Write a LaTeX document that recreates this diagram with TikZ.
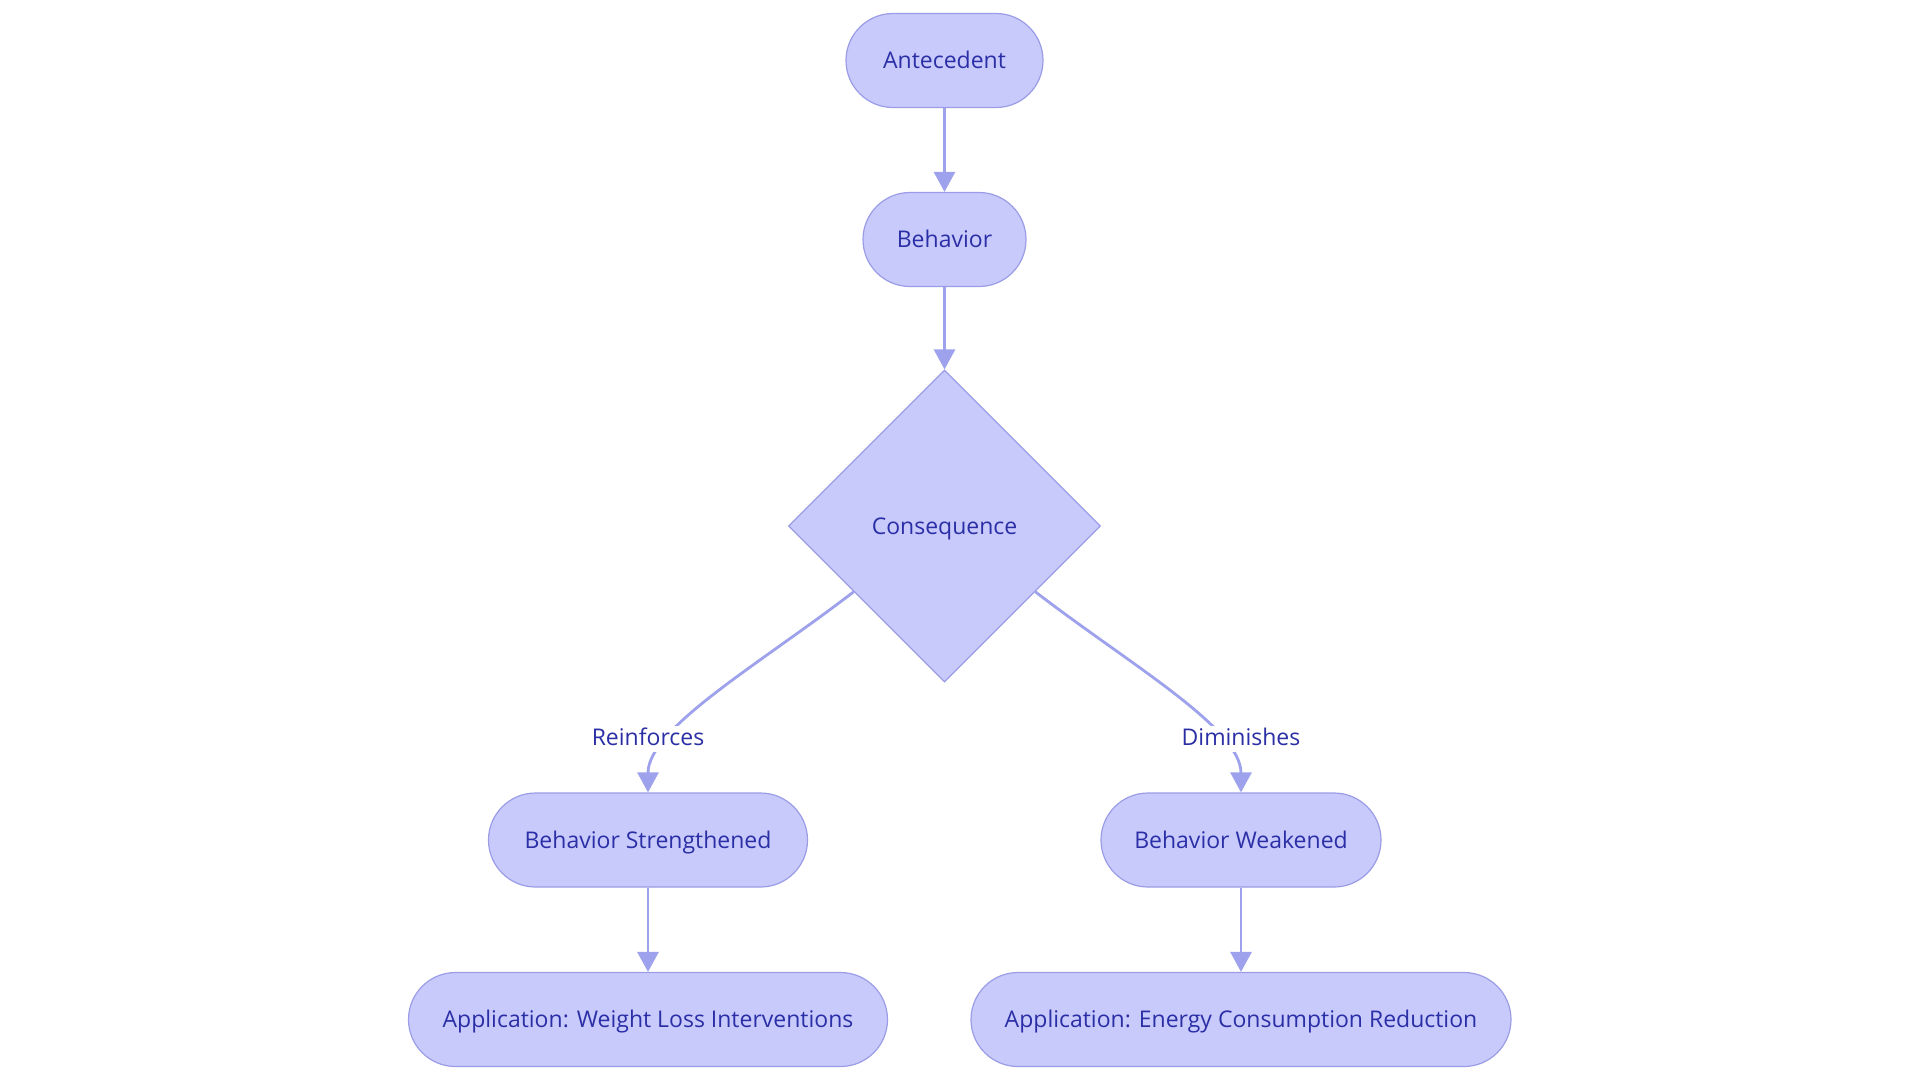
\documentclass[tikz,border=0pt]{standalone}
\usepackage{fontspec}
\setmainfont{Open Sans}
\usetikzlibrary{shapes.geometric,arrows.meta,calc}
\definecolor{nodefill}{HTML}{C9CAFC}
\definecolor{nodeline}{HTML}{9A9DE6}
\definecolor{edgecol}{HTML}{9EA1EC}
\definecolor{txtcol}{HTML}{2B2FA6}
\tikzset{
  pill/.style={draw=nodeline, fill=nodefill, line width=1.2pt, rounded corners=47pt,
    minimum height=94pt, inner sep=0pt, text=txtcol, text height=16.4pt, text depth=0pt,
    font=\fontsize{23}{27}\selectfont},
  decision/.style={diamond, draw=nodeline, fill=nodefill, line width=1.2pt,
    minimum width=312pt, minimum height=312pt, inner sep=0pt, text=txtcol,
    text height=16.4pt, text depth=0pt, font=\fontsize{23}{27}\selectfont},
  edge/.style={draw=edgecol, line width=2.8pt, -{Triangle[length=20pt,width=21pt]}},
  elabel/.style={fill=white, inner sep=3pt, text=txtcol, text height=16.4pt, text depth=4pt,
    font=\fontsize{23}{27}\selectfont}
}
\begin{document}
\begin{tikzpicture}[x=1pt,y=-1pt]
\path[use as bounding box, fill=white] (0,0) rectangle (1920,1080);
\node[pill, minimum width=197pt] (ant) at (944.5,60.5) {Antecedent};
\node[pill, minimum width=163pt] (beh) at (944.5,239.5) {Behavior};
\node[decision] (cons) at (944.5,526) {Consequence};
\node[pill, minimum width=319pt] (str) at (648,840) {Behavior Strengthened};
\node[pill, minimum width=280pt] (weak) at (1241,840) {Behavior Weakened};
\node[pill, minimum width=479pt] (wl) at (648,1019.5) {Application: Weight Loss Interventions};
\node[pill, minimum width=540pt] (en) at (1241,1019.5) {Application: Energy Consumption Reduction};
\coordinate (cl) at ($(cons.west)!0.42!(cons.south)$);
\coordinate (cr) at ($(cons.east)!0.42!(cons.south)$);
\draw[edge] (ant) -- (beh);
\draw[edge] (beh) -- (cons);
\draw[edge] (cl) .. controls (760,664) and (648,728) .. (str.north);
\draw[edge] (cr) .. controls (1129,664) and (1241,728) .. (weak.north);
\draw[edge] (str) -- (wl);
\draw[edge] (weak) -- (en);
\node[elabel] (lr) at (648,739) {Reinforces};
\node[elabel] (ld) at (1241,739) {Diminishes};
\end{tikzpicture}
\end{document}
